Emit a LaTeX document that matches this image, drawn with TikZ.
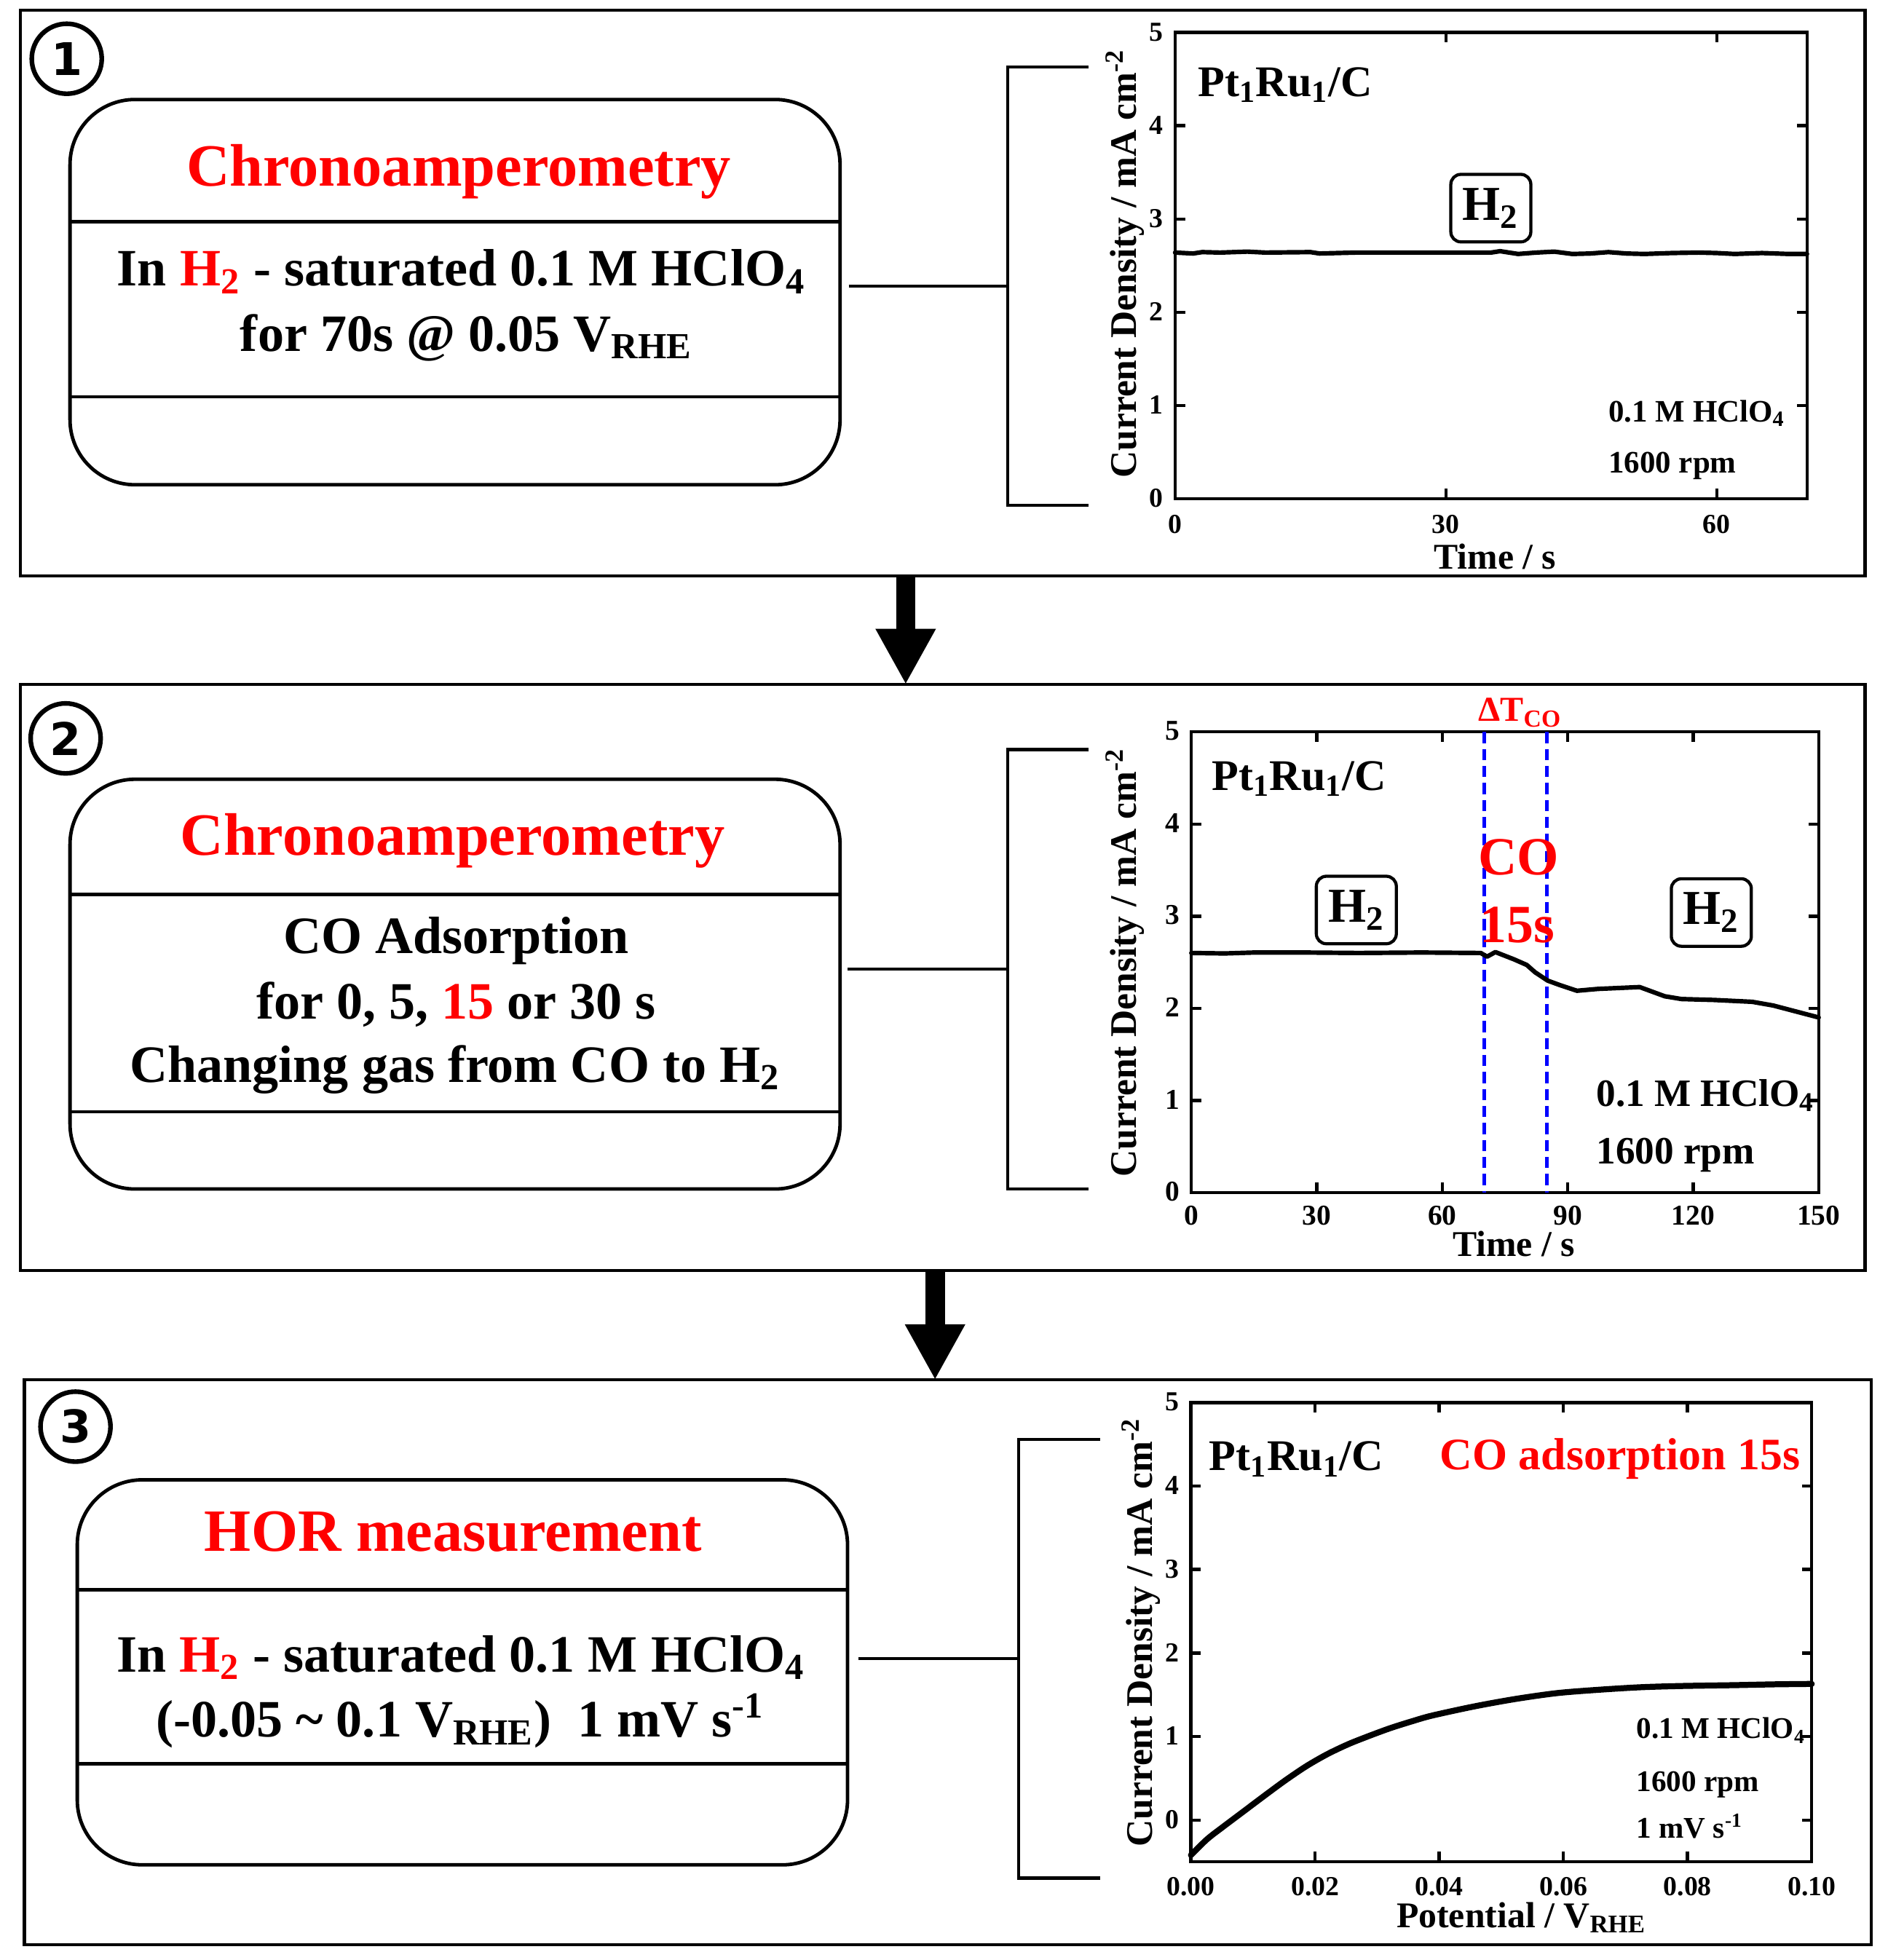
\documentclass[tikz,border=0pt]{standalone}
\usepackage{fontspec}
\setmainfont{Liberation Serif}
\newfontfamily\digfont{DejaVu Sans}[BoldFont={DejaVu Sans Bold}]
\usetikzlibrary{arrows.meta}
\newcommand{\fsz}[1]{\fontsize{#1}{#1}\selectfont}
\begin{document}
\begin{tikzpicture}[x=0.5pt,y=-0.5pt,
 panel/.style={draw, line width=1.2pt, inner sep=0pt, outer sep=0pt},
 procbox/.style={draw, line width=1.4pt, rounded corners=26pt, inner sep=0pt, outer sep=0pt, minimum width=308pt},
 boxline/.style={line width=1.4pt},
 conn/.style={line width=1.25pt},
 circnum/.style={draw, circle, line width=1.85pt, minimum size=28pt, inner sep=0pt, font=\digfont\bfseries\fsz{18}},
 bigarrow/.style={line width=7.75pt, -{Triangle[width=22.5pt,length=22.3pt]}},
 ttl/.style={font=\bfseries\fsz{24}, text=red, anchor=base, inner sep=0pt},
 body/.style={font=\bfseries\fsz{21}, anchor=base, inner sep=0pt},
 axis/.style={line width=1.3pt},
 curve/.style={line width=1.8pt, line join=round, line cap=round},
 ylab/.style={font=\bfseries\fsz{15}, rotate=90, inner sep=0pt},
 xlab/.style={font=\bfseries\fsz{14.5}, anchor=base, inner sep=0pt, text height=0.7em},
 tickA/.style={font=\bfseries\fsz{11}, inner sep=0pt, text height=0.68em, text depth=0pt},
 tickB/.style={font=\bfseries\fsz{11.5}, inner sep=0pt, text height=0.68em, text depth=0pt},
 ptlab/.style={font=\bfseries\fsz{17.5}, anchor=base west, inner sep=0pt},
 gasbox/.style={draw, line width=1.25pt, rounded corners=4pt, minimum width=32pt, minimum height=27pt, inner sep=0pt, font=\bfseries\fsz{19.5}},
 bluedash/.style={draw=blue, line width=1.5pt, dash pattern=on 4.5pt off 2.3pt}
]
\useasboundingbox (0,0) rectangle (1510,1568);

% ---------- panels ----------
\node[panel, minimum width=737.85pt, minimum height=226.1pt] (p1) at (754.15,234.4) {};
\node[panel, minimum width=737.85pt, minimum height=234.5pt] (p2) at (754.15,782.1) {};
\node[panel, minimum width=738.75pt, minimum height=225.9pt] (p3) at (758.25,1329.9) {};

\coordinate (a1) at (724.5,0);
\coordinate (a2) at (748,0);
\draw[bigarrow] (p1.south -| a1) -- (p2.north -| a1);
\draw[bigarrow] (p2.south -| a2) -- (p3.north -| a2);

% ---------- circled numbers ----------
\node[circnum] (n1) at (53.4,47) {1};
\node[circnum] (n2) at (52.5,590.7) {2};
\node[circnum] (n3) at (60.4,1141.3) {3};

% ---------- process boxes ----------
\node[procbox, minimum height=154.1pt] (box1) at (364,233.7) {};
\draw[boxline] (box1.west |- 0,177.4) -- (box1.east |- 0,177.4);
\draw[boxline] (box1.west |- 0,317.4) -- (box1.east |- 0,317.4);
\node[ttl] (t1) at (367,148.6) {Chronoamperometry};
\node[body] (l11) at (369,228.8) {In {\color{red}H\textsubscript{2}} - saturated 0.1 M HClO\textsubscript{4}};
\node[body] (l12) at (373,280.8) {for 70s @ 0.05 V\textsubscript{RHE}};

\node[procbox, minimum height=163.9pt] (box2) at (364,787.3) {};
\draw[boxline] (box2.west |- 0,715.5) -- (box2.east |- 0,715.5);
\draw[boxline] (box2.west |- 0,889.4) -- (box2.east |- 0,889.4);
\node[ttl] (t2) at (362,684) {Chronoamperometry};
\node[body] (l21) at (365,763) {CO Adsorption};
\node[body] (l22) at (365,815) {for 0, 5, {\color{red}15} or 30 s};
\node[body] (l23) at (364,865.6) {Changing gas from CO to H\textsubscript{2}};

\node[procbox, minimum width=308.1pt, minimum height=154pt] (box3) at (369.9,1337.85) {};
\draw[boxline] (box3.west |- 0,1272) -- (box3.east |- 0,1272);
\draw[boxline] (box3.west |- 0,1410.8) -- (box3.east |- 0,1410.8);
\node[ttl] (t3) at (362.5,1240.8) {HOR measurement};
\node[body] (l31) at (368.5,1337.4) {In {\color{red}H\textsubscript{2}} - saturated 0.1 M HClO\textsubscript{4}};
\node[body] (l32) at (368,1389.4) {(-0.05 \textasciitilde\ 0.1 V\textsubscript{RHE})\ \ 1 mV s\textsuperscript{-1}};

% ---------- brackets and connectors ----------
\coordinate (b1) at (806,229);
\coordinate (b2) at (806,775.3);
\coordinate (b3) at (815,1327);
\draw[conn] (871,53.7) -- (806,53.7) -- (806,404.4) -- (871,404.4);
\draw[conn] (871,599.6) -- (806,599.6) -- (806,951) -- (871,951);
\draw[conn] (880,1151.7) -- (815,1151.7) -- (815,1502.4) -- (880,1502.4);
\draw[conn, shorten <=3.5pt] (box1.east |- b1) -- (b1);
\draw[conn, shorten <=3pt] (box2.east |- b2) -- (b2);
\draw[conn, shorten <=4.25pt] (box3.east |- b3) -- (b3);

% ---------- plot 1 ----------
\begin{scope}[shift={(940,399)}, x=3.611pt, y=37.3pt]
 \draw[axis] (0,0) rectangle (70,5);
 \foreach \v in {1,2,3,4} { \draw[axis] (0,\v) -- ++(4pt,0pt); \draw[axis] (70,\v) -- ++(-4pt,0pt); }
 \foreach \t in {30,60} { \draw[axis] (\t,0) -- ++(0pt,4pt); \draw[axis] (\t,5) -- ++(0pt,-4pt); }
 \foreach \v in {0,...,5} \node[tickA, anchor=east, xshift=-4.5pt] at (0,\v) {\v};
 \foreach \t in {0,30,60} \node[tickA, yshift=-10.5pt] at (\t,0) {\t};
 \draw[curve] plot coordinates {(0,2.64)(2,2.63)(3,2.645)(5,2.64)(8,2.65)(10,2.64)(15,2.645)(16,2.63)(20,2.64)(25,2.64)(30,2.64)(35,2.64)(36,2.655)(38,2.625)(40,2.64)(42,2.65)(44,2.625)(46,2.63)(48,2.645)(50,2.63)(52,2.625)(55,2.635)(58,2.64)(60,2.635)(62,2.625)(65,2.635)(68,2.625)(70,2.625)};
\end{scope}
\node[ylab] (y1) at (900,211) {Current Density / mA cm\textsuperscript{-2}};
\node[xlab] (x1) at (1196,455) {Time / s};
\node[ptlab] (m1) at (958,76.9) {Pt\textsubscript{1}Ru\textsubscript{1}/C};
\node[gasbox] (g1) at (1192.6,166.5) {H\textsubscript{2}};
\node[font=\bfseries\fsz{12.5}, anchor=base west, inner sep=0pt] (s11) at (1286.5,337.7) {0.1 M HClO\textsubscript{4}};
\node[font=\bfseries\fsz{12.5}, anchor=base west, inner sep=0pt] (s12) at (1286.5,378.3) {1600 rpm};

% ---------- plot 2 ----------
\begin{scope}[shift={(953,954)}, x=1.673pt, y=36.85pt]
 \draw[axis] (0,0) rectangle (150,5);
 \foreach \v in {1,2,3,4} { \draw[axis] (0,\v) -- ++(4pt,0pt); \draw[axis] (150,\v) -- ++(-4pt,0pt); }
 \foreach \t in {30,60,90,120} { \draw[axis] (\t,0) -- ++(0pt,4pt); \draw[axis] (\t,5) -- ++(0pt,-4pt); }
 \foreach \v in {0,...,5} \node[tickB, anchor=east, xshift=-4.5pt] at (0,\v) {\v};
 \foreach \t in {0,30,60,90,120,150} \node[tickB, yshift=-9.5pt] at (\t,0) {\t};
 \draw[bluedash] (70,5) -- (70,0);
 \draw[bluedash] (85,5) -- (85,0);
 \draw[curve] plot coordinates {(0,2.60)(8,2.595)(15,2.605)(27,2.605)(40,2.60)(55,2.605)(69.2,2.60)(70.7,2.56)(72.7,2.61)(77.2,2.53)(80.2,2.47)(82.2,2.39)(85.2,2.30)(88.2,2.25)(92.2,2.19)(97.2,2.21)(107.2,2.23)(113.2,2.13)(117.2,2.10)(125,2.09)(134.1,2.07)(139.1,2.03)(150,1.90)};
\end{scope}
\node[ylab] (y2) at (900,770) {Current Density / mA cm\textsuperscript{-2}};
\node[xlab] (x2) at (1211,1005) {Time / s};
\node[ptlab] (m2) at (969,632) {Pt\textsubscript{1}Ru\textsubscript{1}/C};
\node[gasbox] (g21) at (1085,728) {H\textsubscript{2}};
\node[gasbox] (g22) at (1369,730) {H\textsubscript{2}};
\node[font=\bfseries\fsz{14}, text=red, anchor=base, inner sep=0pt] (dt) at (1216,577) {ΔT\textsubscript{CO}};
\node[font=\bfseries\fsz{21.5}, text=red, anchor=base, inner sep=0pt] (co) at (1215,700) {CO};
\node[font=\bfseries\fsz{21.5}, text=red, anchor=base, inner sep=0pt] (fs) at (1214,754) {15s};
\node[font=\bfseries\fsz{15.5}, anchor=base west, inner sep=0pt] (s21) at (1276.6,885) {0.1 M HClO\textsubscript{4}};
\node[font=\bfseries\fsz{15.5}, anchor=base west, inner sep=0pt] (s22) at (1276.6,931) {1600 rpm};

% ---------- plot 3 ----------
\begin{scope}[shift={(952.7,1456)}, x=24.83pt, y=33.4pt]
 \draw[axis] (0,-0.5) rectangle (10,5);
 \foreach \v in {0,1,2,3,4} { \draw[axis] (0,\v) -- ++(4pt,0pt); \draw[axis] (10,\v) -- ++(-4pt,0pt); }
 \foreach \t in {2,4,6,8} { \draw[axis] (\t,-0.5) -- ++(0pt,4pt); \draw[axis] (\t,5) -- ++(0pt,-4pt); }
 \foreach \v in {0,...,5} \node[tickA, anchor=east, xshift=-4.5pt] at (0,\v) {\v};
 \foreach \t/\l in {0/0.00,2/0.02,4/0.04,6/0.06,8/0.08,10/0.10} \node[tickA, yshift=-10pt] at (\t,-0.5) {\l};
 \draw[curve, line width=2.4pt] plot[smooth] coordinates {(0,-0.42)(0.26,-0.23)(0.52,-0.08)(0.86,0.11)(1.2,0.30)(1.53,0.48)(1.87,0.65)(2.2,0.79)(2.54,0.91)(2.88,1.01)(3.21,1.10)(3.55,1.18)(3.88,1.25)(4.56,1.36)(5.23,1.45)(5.9,1.52)(6.57,1.56)(7.24,1.59)(7.9,1.605)(8.74,1.615)(9.4,1.625)(10,1.63)};
\end{scope}
\node[ylab] (y3) at (913,1306) {Current Density / mA cm\textsuperscript{-2}};
\node[xlab] (x3) at (1217,1542) {Potential / V\textsubscript{RHE}};
\node[ptlab] (m3) at (967,1176.4) {Pt\textsubscript{1}Ru\textsubscript{1}/C};
\node[font=\bfseries\fsz{18}, text=red, anchor=base west, inner sep=0pt] (ca) at (1151.5,1175.8) {CO adsorption 15s};
\node[font=\bfseries\fsz{12}, anchor=base west, inner sep=0pt] (s31) at (1308.8,1390.9) {0.1 M HClO\textsubscript{4}};
\node[font=\bfseries\fsz{12}, anchor=base west, inner sep=0pt] (s32) at (1308.8,1432.9) {1600 rpm};
\node[font=\bfseries\fsz{12}, anchor=base west, inner sep=0pt] (s33) at (1308.8,1470.6) {1 mV s\textsuperscript{-1}};
\end{tikzpicture}
\end{document}
